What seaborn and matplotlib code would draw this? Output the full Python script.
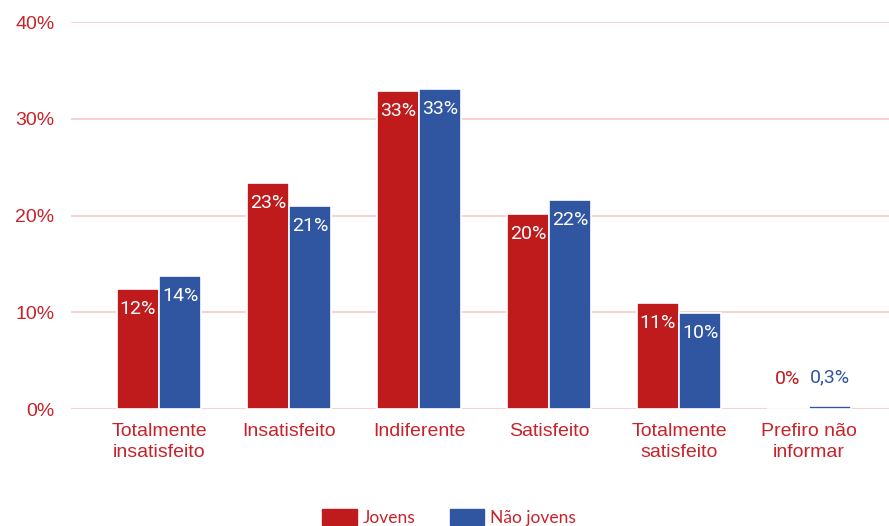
import matplotlib.pyplot as plt
import numpy as np
import pandas as pd
import seaborn as sns

categorias = ['Totalmente\ninsatisfeito', 'Insatisfeito', 'Indiferente',
              'Satisfeito', 'Totalmente\nsatisfeito', 'Prefiro não\ninformar']
jovens = [12.4, 23.4, 32.9, 20.2, 11.0, 0.05]
nao_jovens = [13.8, 21.0, 33.1, 21.6, 9.9, 0.3]
rotulos_jovens = ['12%', '23%', '33%', '20%', '11%', '0%']
rotulos_nao_jovens = ['14%', '21%', '33%', '22%', '10%', '0,3%']
grupos = ['Jovens', 'Não jovens']

vermelho = '#bf1a1c'
azul = '#3056a2'
texto = '#c8222a'
grade = '#f5c9cb'

df = pd.DataFrame({
    'categoria': categorias * 2,
    'valor': jovens + nao_jovens,
    'grupo': [grupos[0]] * 6 + [grupos[1]] * 6,
})

sns.set_theme(style='white')
plt.rcParams['font.family'] = ['Liberation Sans', 'DejaVu Sans']

fig = plt.figure(figsize=(8.89, 5.26), dpi=100)
ax = fig.add_axes([0.08, 0.2224, 0.92, 0.7357])

sns.barplot(data=df, x='categoria', y='valor', hue='grupo',
            palette=[vermelho, azul], width=0.65, saturation=1,
            edgecolor='white', linewidth=1.2, ax=ax, legend=False)

ax.set_ylim(0, 40)
ax.set_xlim(-0.677, 5.615)
ax.set_yticks([0, 10, 20, 30, 40])
ax.set_yticklabels(['0%', '10%', '20%', '30%', '40%'])
ax.yaxis.grid(True, color=grade, linewidth=1.2)
ax.set_axisbelow(True)
for s in ax.spines.values():
    s.set_visible(False)
ax.tick_params(axis='both', length=0, labelsize=14, labelcolor=texto)
ax.tick_params(axis='x', pad=10)
ax.tick_params(axis='y', pad=12)
for t in ax.get_xticklabels():
    t.set_linespacing(1.3)
ax.set_xlabel('')
ax.set_ylabel('')

# rótulos de dados
for cont, rotulos, cor in zip(ax.containers, [rotulos_jovens, rotulos_nao_jovens], [vermelho, azul]):
    for barra, rot in zip(cont, rotulos):
        xc = barra.get_x() + barra.get_width() / 2
        h = barra.get_height()
        if h < 2:
            ax.annotate(rot, (xc, h), xytext=(0, 21), textcoords='offset points',
                        ha='center', va='center', fontsize=14, color=cor,
                        family='Roboto', fontweight='normal')
        else:
            ax.annotate(rot, (xc, h), xytext=(0, -14.5), textcoords='offset points',
                        ha='center', va='center', fontsize=14, color='white',
                        family='Roboto', fontweight='normal')

handles = [plt.Rectangle((0, 0), 1, 1, color=vermelho),
           plt.Rectangle((0, 0), 1, 1, color=azul)]
fig.legend(handles, grupos, loc='lower center', bbox_to_anchor=(0.505, -0.03), ncol=2,
           frameon=False, labelcolor=texto, handlelength=2.0,
           handleheight=1.05, handletextpad=0.3, columnspacing=2.0,
           prop={'family': 'Lato', 'size': 12.5})

fig.savefig('out.png', dpi=100)
